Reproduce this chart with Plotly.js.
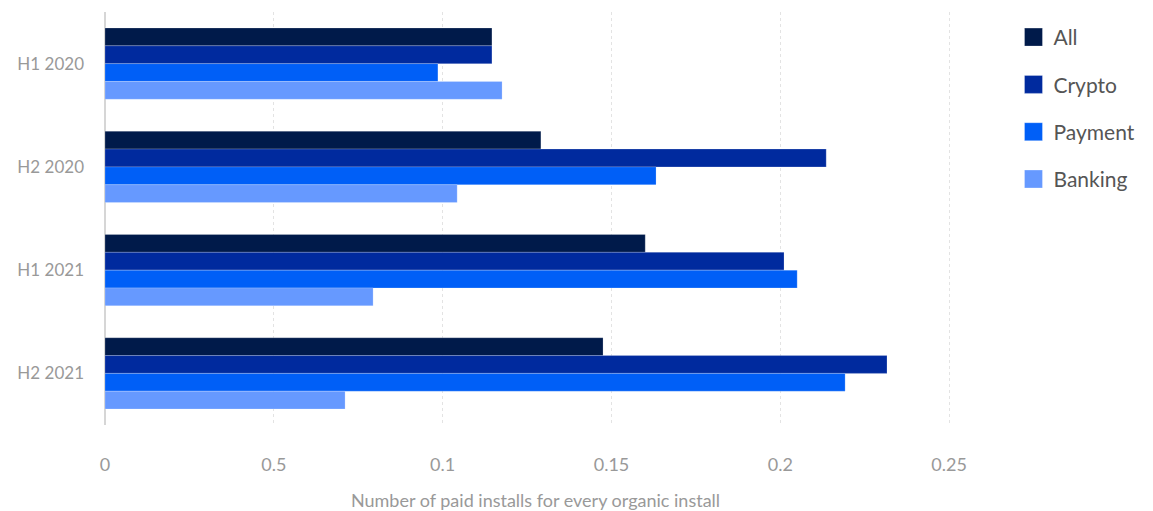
<!DOCTYPE html>
<html>
<head>
<meta charset="utf-8">
<script src="https://cdn.plot.ly/plotly-3.0.1.min.js"></script>
<style>html,body{margin:0;padding:0;background:#fff}#chart{width:1153px;height:511px}</style>
</head>
<body>
<div id="chart"></div>
<script>
const categories = ["H1 2020", "H2 2020", "H1 2021", "H2 2021"];
const seriesNames = ["All", "Crypto", "Payment", "Banking"];
const allValues = [0.1146, 0.1291, 0.1600, 0.1475];
const cryptoValues = [0.1146, 0.2136, 0.2011, 0.2316];
const paymentValues = [0.0986, 0.1632, 0.2050, 0.2192];
const bankingValues = [0.1176, 0.1043, 0.0794, 0.0711];
const tickValues = [0, 0.05, 0.1, 0.15, 0.2, 0.25];
const tickLabels = ["0", "0.5", "0.1", "0.15", "0.2", "0.25"];
const colors = ["#001A4A", "#002A9E", "#005FF7", "#6699FF"];

const seriesValues = [allValues, cryptoValues, paymentValues, bankingValues];
const traces = seriesNames.map((name, i) => ({
  type: "bar",
  orientation: "h",
  name: name,
  y: categories,
  x: seriesValues[i],
  legendgroup: name,
  marker: {color: colors[i], line: {color: "rgba(255,255,255,0.4)", width: 0.5}},
  hoverinfo: "x+name"
}));

const layout = {
  width: 1153,
  height: 511,
  margin: {l: 105, r: 187, t: 12, b: 86},
  paper_bgcolor: "#fff",
  plot_bgcolor: "#fff",
  font: {family: "Lato, 'Open Sans', sans-serif", color: "#999"},
  barmode: "group",
  bargap: 0.31,
  bargroupgap: 0,
  showlegend: true,
  legend: {
    xref: "container", x: 0.879, xanchor: "left",
    y: 0.988, yanchor: "top",
    font: {size: 21, color: "#555"},
    tracegroupgap: 17,
    bgcolor: "rgba(0,0,0,0)"
  },
  xaxis: {
    range: [0, 0.255],
    tickvals: tickValues,
    ticktext: tickLabels,
    tickfont: {size: 18, color: "#999"},
    showgrid: true,
    gridcolor: "#e3e3e3",
    griddash: "dot",
    gridwidth: 1,
    zeroline: true,
    zerolinecolor: "#d6d6d6",
    zerolinewidth: 2,
    showline: false,
    ticks: "",
    ticklabelstandoff: 27,
    title: {text: "Number of paid installs for every organic install", font: {size: 18, color: "#999"}, standoff: 20}
  },
  yaxis: {
    type: "category",
    autorange: "reversed",
    tickfont: {size: 17, color: "#999"},
    showgrid: false,
    zeroline: false,
    showline: false,
    ticks: "",
    ticklabelstandoff: 20
  }
};

Plotly.newPlot("chart", traces, layout, {displayModeBar: false, staticPlot: true}).then(gd => {
  gd.querySelectorAll(".legend .legendpoints path").forEach(p => {
    const t = p.getAttribute("transform") || "";
    p.setAttribute("transform", t + " scale(1.5)");
  });
});
</script>
</body>
</html>
